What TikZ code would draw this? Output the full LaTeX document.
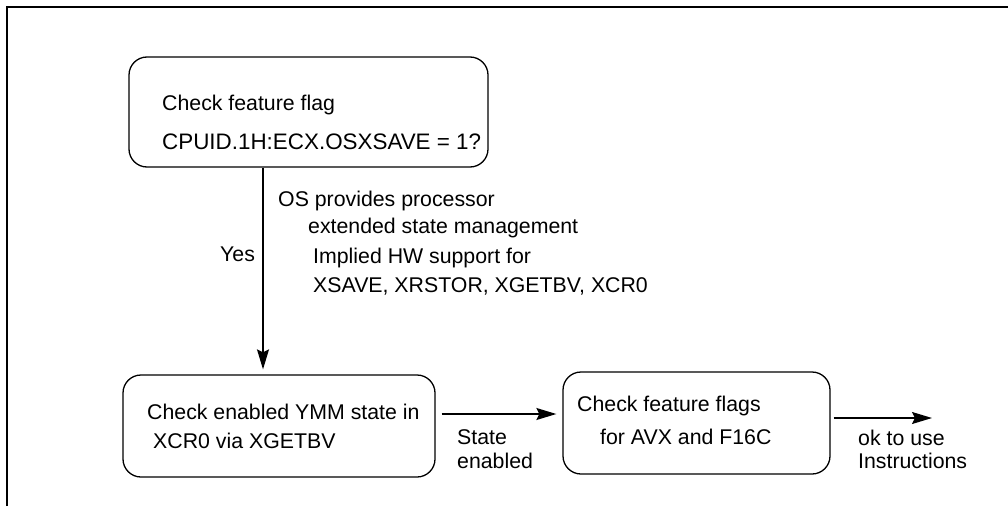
\documentclass[tikz,border=0pt]{standalone}
\usepackage{fontspec}
\setmainfont{Liberation Sans}
\usetikzlibrary{positioning,arrows.meta,calc}
\tikzset{
  blk/.style={draw=black, rounded corners=18pt, line width=1.3pt, inner sep=0pt},
  lbl/.style={inner sep=0pt, anchor=base west, font=\fontsize{21.3}{25}\selectfont, text=black},
  flow/.style={-{Stealth[length=20pt,width=12pt,inset=3pt]}, line width=1.3pt, draw=black},
  frame/.style={line width=2.5pt, draw=black},
}

\begin{document}
\begin{tikzpicture}[x=1pt,y=-1pt]
  \useasboundingbox (0,0) rectangle (1008,506);
  % open frame
  \draw[frame] (7,506) -- (7,7) -- (1008,7);

  % boxes
  \node[blk, minimum width=359pt, minimum height=110pt] (flag) at (308.5,112) {};
  \node[blk, minimum width=312pt, minimum height=102pt] (ymm) at (279,426) {};
  \node[blk, minimum width=267pt, minimum height=102pt] (avx) at (696.5,423) {};

  % box texts
  \node[lbl] (flagA) at (162,110) {Check feature flag};
  \node[lbl, font=\fontsize{22.4}{25}\selectfont] (flagB) at (162,149) {CPUID.1H:ECX.OSXSAVE = 1?};
  \node[lbl] (ymmA) at (147,419) {Check enabled YMM state in};
  \node[lbl] (ymmB) at (153,448) {XCR0 via XGETBV};
  \node[lbl] (avxA) at (577,411) {Check feature flags};
  \node[lbl] (avxB) at (600,444) {for AVX and F16C};

  % labels
  \node[lbl] (yes) at (220,261) {Yes};
  \node[lbl] (osA) at (278,206) {OS provides processor};
  \node[lbl] (osB) at (308,233) {extended state management};
  \node[lbl] (hwA) at (313,263) {Implied HW support for};
  \node[lbl] (hwB) at (313,292) {XSAVE, XRSTOR, XGETBV, XCR0};
  \node[lbl] (stA) at (457,444) {State};
  \node[lbl] (stB) at (457,468) {enabled};
  \node[lbl] (okA) at (858,445) {ok to use};
  \node[lbl] (okB) at (858,468) {Instructions};

  % connectors
  \coordinate (drop) at (263,0);
  \draw[flow, shorten >=5pt] (flag.south -| drop) -- (ymm.north -| drop);
  \coordinate (lvl) at (0,414);
  \draw[flow, shorten <=6pt, shorten >=6pt] (ymm.east |- lvl) -- (avx.west |- lvl);
  \coordinate (done) at (932,418);
  \draw[flow, shorten <=3pt] (avx.east |- done) -- (done);
\end{tikzpicture}
\end{document}
